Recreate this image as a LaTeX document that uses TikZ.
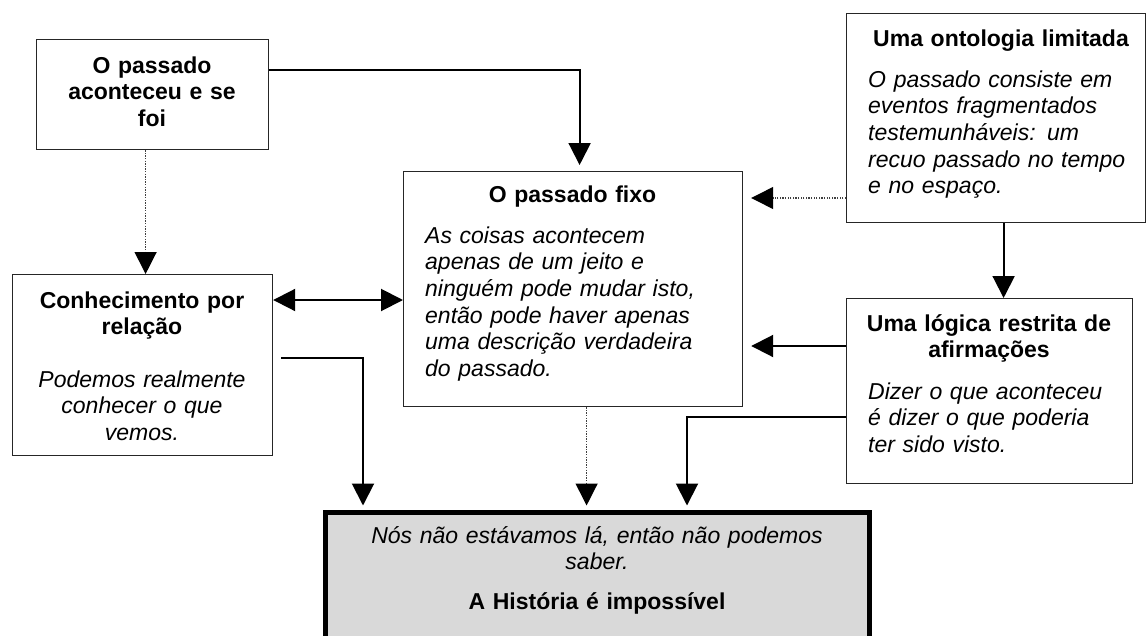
\documentclass[tikz,border=0pt]{standalone}
\usepackage{fontspec}
\setmainfont{Liberation Sans}
\usetikzlibrary{arrows.meta,calc}
\begin{document}
\begin{tikzpicture}[x=1pt,y=-1pt,
  box/.style={draw=black!85,line width=1.2pt,fill=white,inner sep=0pt,anchor=north west},
  finalbox/.style={draw=black,line width=5pt,fill=black!15,inner sep=0pt,anchor=north west},
  ttl/.style={font=\fontsize{23}{26.7}\selectfont\bfseries,align=center,inner sep=0pt,anchor=base},
  bodyl/.style={font=\fontsize{23}{26.7}\selectfont\itshape,align=left,inner sep=0pt,anchor=base west},
  bodyc/.style={font=\fontsize{23}{26.7}\selectfont\itshape,align=center,inner sep=0pt,anchor=base},
  arr/.style={line width=2pt,-{Triangle[length=22pt,width=22pt]}},
  arrboth/.style={line width=2pt,{Triangle[length=22pt,width=22pt]}-{Triangle[length=22pt,width=22pt]}},
  dotarr/.style={line width=1.3pt,draw=black!75,dash pattern=on 1.3pt off 1.3pt,
    -{Triangle[length=22pt,width=22pt,color=black]}},
]
\useasboundingbox (0,0) rectangle (1146,635);

% boxes
\node[box,minimum width=232pt,minimum height=110pt] (A) at (36,39) {};
\node[box,minimum width=339pt,minimum height=235pt] (B) at (403,171) {};
\node[box,minimum width=260pt,minimum height=181pt] (C) at (12,274) {};
\node[box,minimum width=299pt,minimum height=209pt] (D) at (846,13) {};
\node[box,minimum width=286pt,minimum height=185pt] (F) at (846,298) {};
\node[finalbox,minimum width=544pt,minimum height=200pt] (E) at (323,509.5) {};

% texts
\node[ttl,text width=225pt] (At) at (152,73) {O passado\\aconteceu e se\\foi};
\node[ttl,text width=320pt] (Bt) at (572.5,202) {O passado fixo};
\node[bodyl,text width=315pt] (Bb) at (425,243) {As coisas acontecem\\apenas de um jeito e\\ninguém pode mudar isto,\\então pode haver apenas\\uma descrição verdadeira\\do passado.};
\node[ttl,text width=255pt] (Ct) at (142,308) {Conhecimento por\\relação};
\node[bodyc,text width=255pt] (Cb) at (142,387) {Podemos realmente\\conhecer o que\\vemos.};
\node[ttl,text width=290pt] (Dt) at (1001,46) {Uma ontologia limitada};
\node[bodyl,text width=275pt] (Db) at (868,87) {O passado consiste em\\eventos fragmentados\\testemunháveis: um\\recuo passado no tempo\\e no espaço.};
\node[ttl,text width=280pt] (Ft) at (989,331) {Uma lógica restrita de\\afirmações};
\node[bodyl,text width=260pt] (Fb) at (868,399) {Dizer o que aconteceu\\é dizer o que poderia\\ter sido visto.};
\node[bodyc,text width=520pt] (Eb) at (597,543) {Nós não estávamos lá, então não podemos\\saber.};
\node[ttl,text width=520pt] (Et) at (597,609) {A História é impossível};

% connectors
\draw[arr,shorten >=6pt] ([yshift=-31pt]A.north east) -| ([xshift=6.5pt]B.north);
\draw[dotarr] ([xshift=-7pt]A.south) -- ([xshift=3pt]C.north);
\coordinate (cb) at ([yshift=-26pt]C.north east);
\draw[arrboth] (cb) -- (cb -| B.west);
\draw[arr,shorten >=4pt] ([xshift=8pt,yshift=7.5pt]C.east) -| ([xshift=40pt]E.north west);
\draw[dotarr,shorten >=4pt] ([xshift=13.5pt]B.south) -- ([xshift=13.5pt]B.south |- E.north);
\coordinate (dw) at ([yshift=-185pt]D.north west);
\draw[dotarr,shorten >=8pt] (dw) -- (dw -| B.east);
\draw[arr] ([xshift=7.5pt]D.south) -- ([xshift=7.5pt]D.south |- F.north);
\coordinate (fw) at ([yshift=-48pt]F.north west);
\draw[arr,shorten >=8pt] (fw) -- (fw -| B.east);
\draw[arr,shorten >=4pt] ([yshift=-119pt]F.north west) -| ([xshift=364pt]E.north west);
\end{tikzpicture}
\end{document}
